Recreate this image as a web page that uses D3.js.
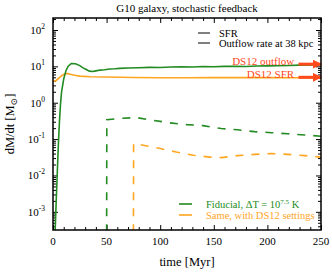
<!DOCTYPE html>
<html>
<head>
<meta charset="utf-8">
<script src="https://d3js.org/d3.v7.min.js"></script>
<style>
  body { margin: 0; background: #fff; }
  svg text { font-family: "Liberation Serif", "DejaVu Serif", serif; }
  .axis path { display: none; }
  .axis line { stroke: #000; stroke-width: 1px; }
</style>
</head>
<body>
<div id="chart"></div>
<script>
// time in Myr, rates in Msun/yr
var fidSfrT   = [2, 3, 4, 5, 6, 7, 8, 10, 12, 14, 17, 21, 25, 28, 31, 34, 37, 40, 44, 48, 53, 58, 62, 70, 80, 90, 100, 110, 120, 130, 140, 150, 160, 170, 180, 190, 200, 210, 220, 230, 240, 250];
var fidSfrV   = [0.0003, 0.002, 0.012, 0.07, 0.3, 0.9, 2.0, 4.5, 7.5, 10.0, 12.0, 11.8, 10.5, 9.1, 8.2, 7.4, 7.2, 7.5, 7.9, 8.1, 8.5, 8.6, 8.8, 9.0, 9.2, 9.4, 9.3, 9.6, 9.8, 9.6, 9.9, 9.8, 10.0, 10.1, 9.9, 10.2, 10.3, 10.4, 10.6, 10.8, 11.0, 11.1];
var ds12SfrT  = [0, 3, 6, 9, 12.7, 16, 20, 25, 35, 50, 75, 100, 125, 150, 175, 200, 225, 250];
var ds12SfrV  = [3.8, 4.1, 4.9, 5.8, 6.4, 6.1, 5.7, 5.4, 5.2, 5.1, 4.95, 4.85, 4.85, 4.9, 4.9, 4.9, 4.85, 4.8];
var fidOutT   = [50, 50.2, 62, 78, 93, 109, 124.5, 140, 157, 172, 188, 204, 219, 235, 250];
var fidOutV   = [0.0001, 0.34, 0.37, 0.39, 0.33, 0.28, 0.25, 0.235, 0.195, 0.18, 0.16, 0.15, 0.14, 0.13, 0.12];
var ds12OutT  = [75, 75.2, 84, 100, 115, 131, 146, 157, 172, 188, 204, 219, 235, 250];
var ds12OutV  = [0.0001, 0.076, 0.068, 0.055, 0.044, 0.036, 0.032, 0.031, 0.035, 0.038, 0.040, 0.038, 0.035, 0.032];
var xTicks = [0, 50, 100, 150, 200, 250];
var yExps  = [-3, -2, -1, 0, 1, 2];
var notes  = [{label: "DS12 outflow", value: 11.5}, {label: "DS12 SFR", value: 5.0}];

var W = 332, H = 274;
var m = {top: 18, right: 11, bottom: 44, left: 53};
var w = W - m.left - m.right, h = H - m.top - m.bottom;
var green = "#228b22", orange = "#ffa51f", red = "#ff4a1c";

var svg = d3.select("#chart").append("svg").attr("width", W).attr("height", H);
var g = svg.append("g").attr("transform", "translate(" + m.left + "," + m.top + ")");

var x = d3.scaleLinear().domain([0, 250]).range([0, w]);
var y = d3.scaleLog().domain([Math.pow(10, -3.5), Math.pow(10, 2.33)]).range([h, 0]);

var minorX = d3.range(0, 251, 10).filter(function(d) { return d % 50 !== 0; });
var minorY = [];
for (var e = -4; e <= 2; e++) for (var k = 2; k <= 9; k++) {
  var v = k * Math.pow(10, e);
  if (v > y.domain()[0] && v < y.domain()[1]) minorY.push(v);
}
var majorY = yExps.map(function(d) { return Math.pow(10, d); });

function ax(axis, tr) {
  g.append("g").attr("class", "axis").attr("transform", tr || null).call(axis);
}
ax(d3.axisBottom(x).tickValues(xTicks).tickSizeInner(-5).tickFormat(""), "translate(0," + h + ")");
ax(d3.axisBottom(x).tickValues(minorX).tickSizeInner(-3).tickFormat(""), "translate(0," + h + ")");
ax(d3.axisTop(x).tickValues(xTicks).tickSizeInner(-5).tickFormat(""));
ax(d3.axisTop(x).tickValues(minorX).tickSizeInner(-3).tickFormat(""));
ax(d3.axisLeft(y).tickValues(majorY).tickSizeInner(-5).tickFormat(""));
ax(d3.axisLeft(y).tickValues(minorY).tickSizeInner(-3).tickFormat(""));
ax(d3.axisRight(y).tickValues(majorY).tickSizeInner(-5).tickFormat(""), "translate(" + w + ",0)");
ax(d3.axisRight(y).tickValues(minorY).tickSizeInner(-3).tickFormat(""), "translate(" + w + ",0)");

// tick labels
g.selectAll(".xl").data(xTicks).enter().append("text")
  .attr("x", function(d) { return x(d); }).attr("y", h + 15)
  .attr("text-anchor", "middle").style("font-size", "11px").text(function(d) { return d; });
var yl = g.selectAll(".yl").data(yExps).enter().append("text")
  .attr("x", -8).attr("y", function(d) { return y(Math.pow(10, d)) + 4; })
  .attr("text-anchor", "end").style("font-size", "11px");
yl.append("tspan").text("10");
yl.append("tspan").attr("dy", -5).style("font-size", "7.5px").text(function(d) { return d; });

// clip
g.append("clipPath").attr("id", "clip").append("rect").attr("width", w).attr("height", h);
var plot = g.append("g").attr("clip-path", "url(#clip)");

var line = d3.line().x(function(d) { return x(d[0]); }).y(function(d) { return y(d[1]); });
function series(T, V, col, dash) {
  plot.append("path").datum(d3.zip(T, V)).attr("d", line)
    .attr("fill", "none").attr("stroke", col).attr("stroke-width", 1.6)
    .attr("stroke-dasharray", dash || null);
}
series(ds12SfrT, ds12SfrV, orange);
series(fidSfrT, fidSfrV, green);
series(fidOutT, fidOutV, green, "8,8");
series(ds12OutT, ds12OutV, orange, "8,8");

// annotations
svg.append("defs").append("marker").attr("id", "arr").attr("viewBox", "0 0 10 10")
  .attr("refX", 9).attr("refY", 5).attr("markerWidth", 3).attr("markerHeight", 3)
  .attr("orient", "auto").append("path").attr("d", "M0,0L10,5L0,10z").attr("fill", red);
notes.forEach(function(n) {
  g.append("line").attr("x1", x(229)).attr("x2", x(250)).attr("y1", y(n.value)).attr("y2", y(n.value))
    .attr("stroke", red).attr("stroke-width", 3).attr("marker-end", "url(#arr)");
  g.append("text").attr("x", x(225)).attr("y", y(n.value) + 1)
    .attr("text-anchor", "end").attr("fill", red).style("font-size", "11px").text(n.label);
});

// frame
g.append("rect").attr("width", w).attr("height", h).attr("fill", "none").attr("stroke", "#000").attr("stroke-width", 1.5);

// legends
var lg = g.append("g").attr("transform", "translate(145,15)");
lg.append("line").attr("x1", 0).attr("x2", 12).attr("stroke", "#555").attr("stroke-width", 1.5);
lg.append("text").attr("x", 21).attr("y", 4).style("font-size", "10.5px").text("SFR");
lg.append("line").attr("x1", 0).attr("x2", 12).attr("y1", 10).attr("y2", 10).attr("stroke", "#555").attr("stroke-width", 1.5);
lg.append("text").attr("x", 21).attr("y", 14).style("font-size", "10.5px").text("Outflow rate at 38 kpc");

var lb = g.append("g").attr("transform", "translate(126,186)");
lb.append("line").attr("x1", 0).attr("x2", 13).attr("stroke", green).attr("stroke-width", 1.6);
var t1 = lb.append("text").attr("x", 27).attr("y", 4).attr("fill", green).style("font-size", "10.5px");
t1.append("tspan").text("Fiducial, \u0394T = 10");
t1.append("tspan").attr("dy", -4).style("font-size", "7px").text("7.5");
t1.append("tspan").attr("dy", 4).text(" K");
lb.append("line").attr("x1", 0).attr("x2", 13).attr("y1", 11).attr("y2", 11).attr("stroke", orange).attr("stroke-width", 1.6);
lb.append("text").attr("x", 27).attr("y", 15).attr("fill", orange).style("font-size", "10.5px").text("Same, with DS12 settings");

// titles
svg.append("text").attr("x", m.left + w / 2).attr("y", 12).attr("text-anchor", "middle")
  .style("font-size", "11px").text("G10 galaxy, stochastic feedback");
svg.append("text").attr("x", m.left + w / 2).attr("y", 266).attr("text-anchor", "middle")
  .style("font-size", "12.5px").text("time [Myr]");
var ylab = svg.append("text").attr("transform", "translate(14," + (m.top + h / 2) + ") rotate(-90)")
  .attr("text-anchor", "middle").style("font-size", "12.5px");
ylab.append("tspan").text("dM/dt [M");
ylab.append("tspan").attr("dy", 3).style("font-size", "9px").text("\u2299");
ylab.append("tspan").attr("dy", -3).text("]");
</script>
</body>
</html>
